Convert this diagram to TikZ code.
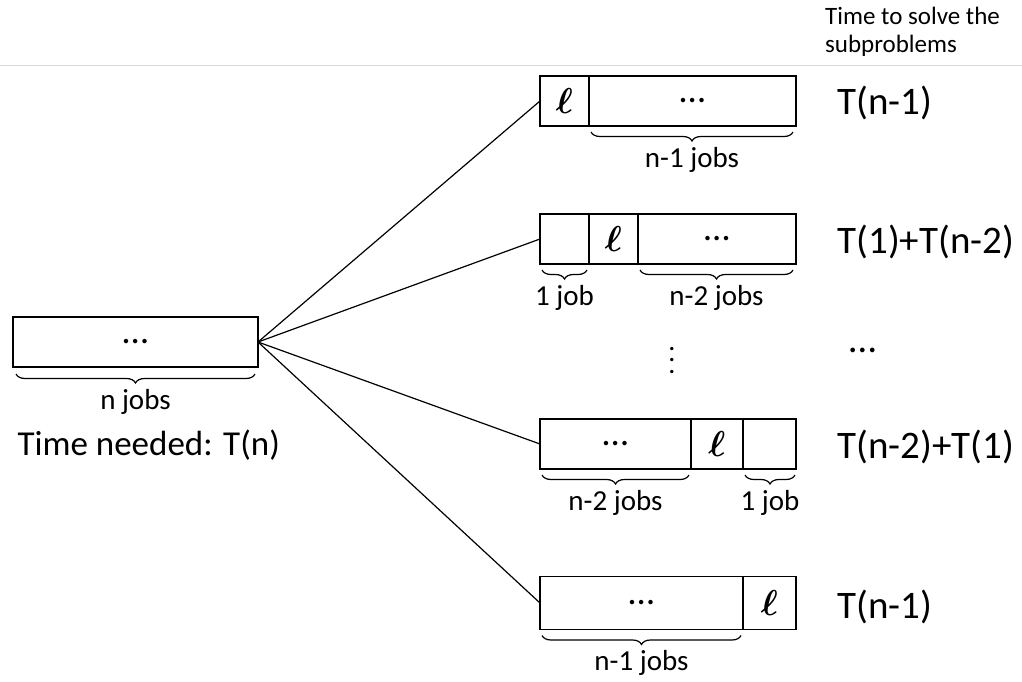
\documentclass[tikz,border=0pt]{standalone}
\usepackage{fontspec}
\setmainfont{Carlito}
\usetikzlibrary{positioning, decorations.pathreplacing, calc}

\tikzset{
  cell/.style={draw, line width=1.4pt, minimum height=50pt, inner sep=0pt, outer sep=0pt, font=\fontsize{37}{40}\selectfont},
  jobbrace/.style={decorate, decoration={brace, mirror, amplitude=9pt}, line width=1.2pt},
  bracelabel/.style={font=\fontsize{29}{32}\selectfont, below=11pt},
  cost/.style={font=\fontsize{39}{44}\selectfont, anchor=west},
  fan/.style={line width=1.2pt}
}
\newcommand{\lcell}{\scalebox{3.6}{\fontsize{10}{12}\usefont{OML}{cmm}{b}{it}\char"60}}

\begin{document}
\begin{tikzpicture}[x=1pt, y=-1pt]
  \useasboundingbox (0,0) rectangle (1022,682);
  \draw[black!15, line width=0.8pt] (0,65) -- (1022,65);
  \node[anchor=north west, align=left, font=\fontsize{25}{28}\selectfont, inner sep=0pt] (header) at (825,7) {Time to solve the\\subproblems};

  % original problem
  \node[cell, minimum width=245pt, anchor=west] (big) at (13,342) {…};
  \draw[jobbrace] ($(big.south west)+(3,7)$) -- ($(big.south east)+(-3,7)$) node[midway, bracelabel] (bigjobs) {n jobs};
  \node[font=\fontsize{35}{40}\selectfont, anchor=west] (needed) at (14,445) {Time needed: T(n)};

  % first row
  \node[cell, minimum width=49pt, anchor=west] (a1) at (540,101) {\lcell};
  \node[cell, minimum width=207pt, right=0pt of a1] (a2) {…};
  \draw[jobbrace] ($(a2.south west)+(2,6)$) -- ($(a2.south east)+(-3,6)$) node[midway, bracelabel] {n-1 jobs};

  % second row
  \node[cell, minimum width=49pt, anchor=west] (b1) at (540,239) {};
  \node[cell, minimum width=49pt, right=0pt of b1] (b2) {\lcell};
  \node[cell, minimum width=158pt, right=0pt of b2] (b3) {…};
  \draw[jobbrace] ($(b1.south west)+(2,6)$) -- ($(b1.south east)+(-2,6)$) node[midway, bracelabel] {1 job};
  \draw[jobbrace] ($(b3.south west)+(2,6)$) -- ($(b3.south east)+(-3,6)$) node[midway, bracelabel] {n-2 jobs};

  % dots
  \node (vdots) at (672,352) {\scalebox{2.8}{$\vdots$}};

  % third row
  \node[cell, minimum width=151pt, anchor=west] (c1) at (540,444) {…};
  \node[cell, minimum width=52pt, right=0pt of c1] (c2) {\lcell};
  \node[cell, minimum width=53pt, right=0pt of c2] (c3) {};
  \draw[jobbrace] ($(c1.south west)+(2,6)$) -- ($(c1.south east)+(-2,6)$) node[midway, bracelabel] {n-2 jobs};
  \draw[jobbrace] ($(c3.south west)+(2,6)$) -- ($(c3.south east)+(-1,6)$) node[midway, bracelabel] {1 job};

  % fourth row
  \node[cell, minimum width=203pt, minimum height=53pt, anchor=west] (d1) at (540,603) {…};
  \node[cell, minimum width=53pt, minimum height=53pt, right=0pt of d1] (d2) {\lcell};
  \draw[jobbrace] ($(d1.south west)+(2,6)$) -- ($(d1.south east)+(-2,6)$) node[midway, bracelabel] {n-1 jobs};

  % fan
  \draw[fan] (big.east) -- (a1.west);
  \draw[fan] (big.east) -- (b1.west);
  \draw[fan] (big.east) -- (c1.west);
  \draw[fan] (big.east) -- (d1.west);

  % costs
  \node[cost] (ta) at (834,103) {T(n-1)};
  \node[cost] (tb) at (834,242) {T(1)+T(n-2)};
  \node[cost] (tdots) at (846,350) {…};
  \node[cost] (tc) at (834,447) {T(n-2)+T(1)};
  \node[cost] (td) at (834,607) {T(n-1)};
\end{tikzpicture}
\end{document}
